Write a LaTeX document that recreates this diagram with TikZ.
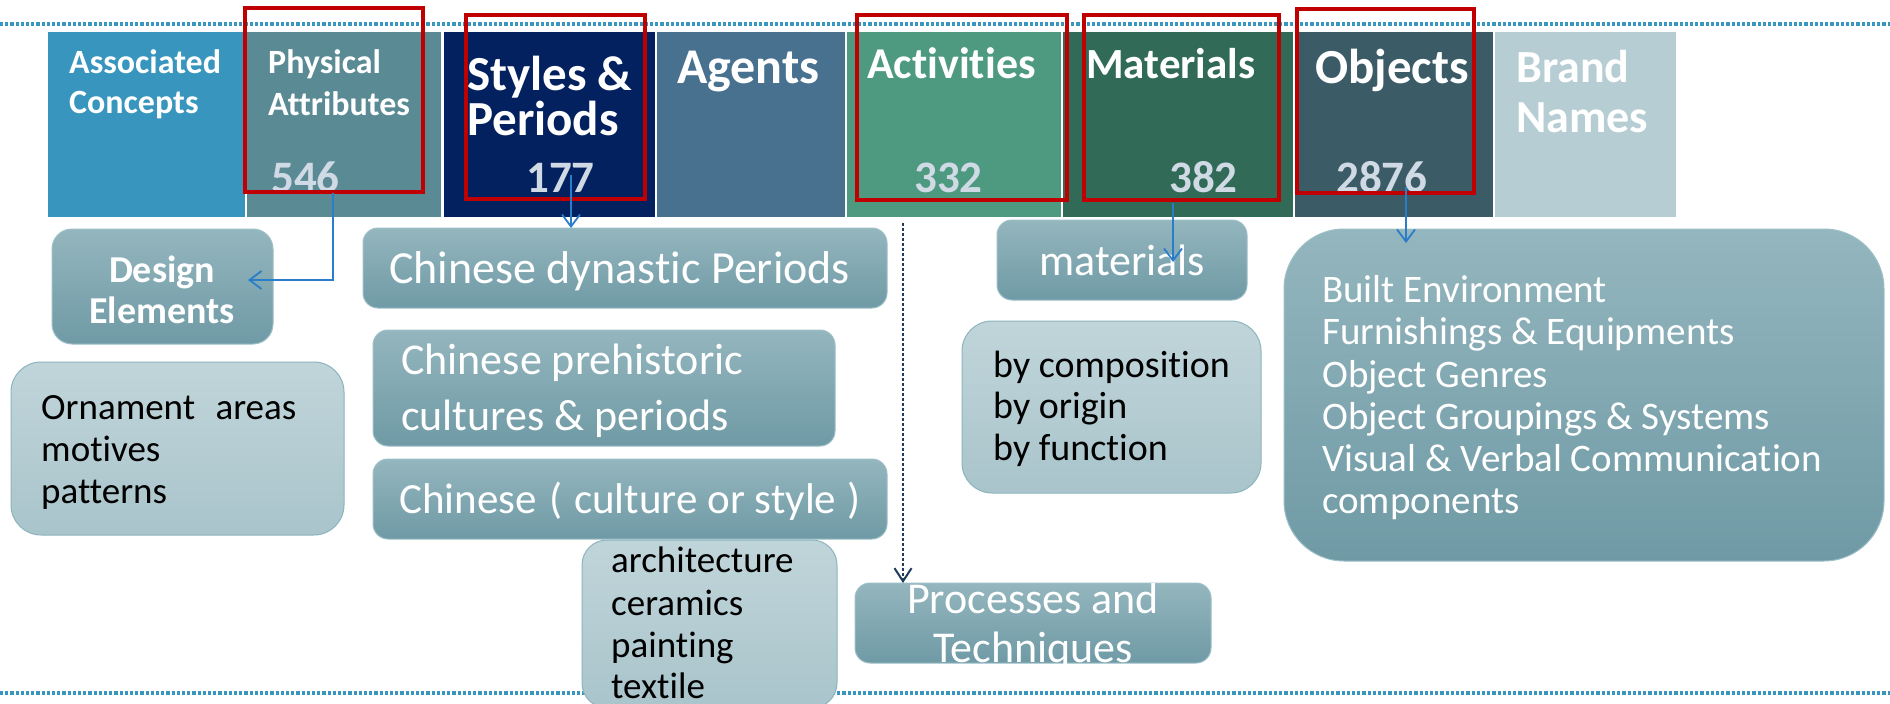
\documentclass[tikz,border=0pt]{standalone}
\usepackage{fontspec}
\setmainfont{Carlito}[Ligatures={NoCommon}]
\usetikzlibrary{arrows.meta}
\definecolor{acblue}{HTML}{3795BE}
\definecolor{physcol}{HTML}{5A8A94}
\definecolor{stylecol}{HTML}{03215F}
\definecolor{agentcol}{HTML}{48708F}
\definecolor{activcol}{HTML}{4D9A80}
\definecolor{matercol}{HTML}{316B58}
\definecolor{objcol}{HTML}{3B5B66}
\definecolor{brandcol}{HTML}{B6CDD3}
\definecolor{numcol}{HTML}{CFDAE5}
\definecolor{boxtop}{HTML}{94B6BE}
\definecolor{boxbot}{HTML}{6F9AA5}
\definecolor{boxedge}{HTML}{9DBFC7}
\definecolor{lighttop}{HTML}{C0D5DA}
\definecolor{lightbot}{HTML}{A9C4CB}
\definecolor{lightedge}{HTML}{8DB4BE}
\definecolor{arrowblue}{HTML}{2A7DC9}
\definecolor{dotblue}{HTML}{3A96C0}
\definecolor{navyarrow}{HTML}{1F3B5E}
\definecolor{redframe}{HTML}{C00000}
\begin{document}
\begin{tikzpicture}[x=1pt,y=-1pt,
  topbox/.style={anchor=north west,inner sep=0pt,outer sep=0pt,draw=none},
  toplabel/.style={anchor=base west,inner sep=0pt,text=white,font=\bfseries\fontsize{#1}{#1}\selectfont},
  numlabel/.style={anchor=base west,inner sep=0pt,text=numcol,font=\bfseries\fontsize{45}{45}\selectfont},
  darkbox/.style={anchor=north west,inner sep=0pt,outer sep=0pt,rounded corners=#1,
    top color=boxtop,bottom color=boxbot,draw=boxedge,line width=1pt},
  lightbox/.style={anchor=north west,inner sep=0pt,outer sep=0pt,rounded corners=#1,
    top color=lighttop,bottom color=lightbot,draw=lightedge,line width=1pt},
  whitetxt/.style={anchor=base west,inner sep=0pt,text=white,font=\fontsize{#1}{#1}\selectfont},
  blacktxt/.style={anchor=base west,inner sep=0pt,text=black,font=\fontsize{#1}{#1}\selectfont},
  redbox/.style={draw=redframe,line width=3.5pt},
  dotline/.style={draw=dotblue,line width=3.6pt,dash pattern=on 3.2pt off 2pt},
  arr/.style={draw=arrowblue,line width=1.8pt,-{Straight Barb[length=12pt,width=18pt,line width=1.8pt]}},
  dotarr/.style={draw=navyarrow,line width=2.2pt,dash pattern=on 2.5pt off 2.5pt,
    -{Straight Barb[length=13pt,width=17pt,line width=2pt]}}
]
\clip (0,0) rectangle (1890,704);
\fill[white] (0,0) rectangle (1890,704);

% dotted rules
\coordinate (tl) at (0,24); \coordinate (tr) at (1890,24);
\coordinate (bl) at (0,693); \coordinate (br) at (1890,693);
\draw[dotline] (tl) -- (tr);
\draw[dotline] (bl) -- (br);

% top category boxes
\node[topbox,fill=acblue,minimum width=197pt,minimum height=185pt] (ac) at (48,32) {};
\node[topbox,fill=physcol,minimum width=194pt,minimum height=185pt] (ph) at (247,32) {};
\node[topbox,fill=stylecol,minimum width=211pt,minimum height=185pt] (st) at (444,32) {};
\node[topbox,fill=agentcol,minimum width=188pt,minimum height=185pt] (ag) at (657,32) {};
\node[topbox,fill=activcol,minimum width=214pt,minimum height=185pt] (act) at (847,32) {};
\node[topbox,fill=matercol,minimum width=230pt,minimum height=185pt] (mat) at (1063,32) {};
\node[topbox,fill=objcol,minimum width=198pt,minimum height=185pt] (obj) at (1295,32) {};
\node[topbox,fill=brandcol,minimum width=181pt,minimum height=185pt] (brn) at (1495,32) {};

\node[toplabel=34] (ac1) at (69,73) {Associated};
\node[toplabel=34] (ac2) at (69,113) {Concepts};
\node[toplabel=34] (ph1) at (268,73) {Physical};
\node[toplabel=34] (ph2) at (268,115) {Attributes};
\node[toplabel=49] (st1) at (467,90) {Styles \&};
\node[toplabel=49] (st2) at (467,135) {Periods};
\node[toplabel=50] (ag1) at (677,83) {Agents};
\node[toplabel=44] (act1) at (867,78) {Activities};
\node[toplabel=43] (mat1) at (1086,78) {Materials};
\node[toplabel=49] (obj1) at (1315,83) {Objects};
\node[toplabel=46] (br1) at (1516,82) {Brand};
\node[toplabel=46] (br2) at (1516,132) {Names};

\node[numlabel] (n546) at (271,192) {546};
\node[numlabel] (n177) at (526,192) {177};
\node[numlabel] (n332) at (914,192) {332};
\node[numlabel] (n382) at (1169,192) {382};
\node[numlabel] (n2876) at (1336,192) {2876};

% red frames
\draw[redbox] (245,8) rectangle (423,192);
\draw[redbox] (466,15) rectangle (645,199);
\draw[redbox] (857,15) rectangle (1067,200);
\draw[redbox] (1084,15) rectangle (1279,200);
\draw[redbox] (1297,9) rectangle (1474,193);

% lower boxes
\node[darkbox=20pt,minimum width=221pt,minimum height=115pt] (de) at (52,229) {};
\node[lightbox=30pt,minimum width=333pt,minimum height=173pt] (orn) at (11,362) {};
\node[darkbox=15pt,minimum width=524pt,minimum height=80pt] (cdp) at (363,228) {};
\node[darkbox=15pt,minimum width=462pt,minimum height=116pt] (cpc) at (373,330) {};
\node[darkbox=15pt,minimum width=514pt,minimum height=80pt] (ccs) at (373,459) {};
\node[lightbox=25pt,minimum width=255pt,minimum height=168pt] (arch) at (582,540) {};
\node[darkbox=15pt,minimum width=250pt,minimum height=80pt] (mats) at (997,220) {};
\node[lightbox=30pt,minimum width=299pt,minimum height=172pt] (byc) at (962,321) {};
\node[darkbox=60pt,minimum width=600pt,minimum height=332pt] (objb) at (1284,229) {};
\node[darkbox=15pt,minimum width=356pt,minimum height=80pt] (proc) at (855,583) {};

% texts in lower boxes
\node[anchor=base,inner sep=0pt,text=white,font=\bfseries\fontsize{38}{38}\selectfont] (de1) at (162,282) {Design};
\node[anchor=base,inner sep=0pt,text=white,font=\bfseries\fontsize{38}{38}\selectfont] (de2) at (162,323) {Elements};

\node[blacktxt=37] (orn1) at (41,419) {Ornament\hspace{12pt} areas};
\node[blacktxt=37] (orn2) at (41,461) {motives};
\node[blacktxt=37] (orn3) at (41,503) {patterns};

\node[whitetxt=46] (cdp1) at (389,283) {Chinese dynastic Periods};
\node[whitetxt=44] (cpc1) at (401,374) {Chinese prehistoric};
\node[whitetxt=44] (cpc2) at (401,430) {cultures \& periods};
\node[whitetxt=43] (ccs1) at (399,513) {Chinese\hspace{3pt} (\hspace{2pt} culture or style\hspace{2pt} )};

\node[blacktxt=37] (ar1) at (611,572) {architecture};
\node[blacktxt=37] (ar2) at (611,615) {ceramics};
\node[blacktxt=37] (ar3) at (611,657) {painting};
\node[blacktxt=37] (ar4) at (611,698) {textile};

\node[whitetxt=44] (mats1) at (1039,275) {materials};

\node[blacktxt=38] (by1) at (993,377) {by composition};
\node[blacktxt=38] (by2) at (993,418) {by origin};
\node[blacktxt=38] (by3) at (993,460) {by function};

\node[whitetxt=39] (ob1) at (1322,302) {Built Environment};
\node[whitetxt=39] (ob2) at (1322,344) {Furnishings \& Equipments};
\node[whitetxt=39] (ob3) at (1322,387) {Object Genres};
\node[whitetxt=39] (ob4) at (1322,429) {Object Groupings \& Systems};
\node[whitetxt=39] (ob5) at (1322,471) {Visual \& Verbal Communication};
\node[whitetxt=39] (ob6) at (1322,513) {components};

\begin{scope}
  \clip[rounded corners=15pt] (855,583) rectangle (1211,663);
  \node[anchor=base,inner sep=0pt,text=white,font=\fontsize{44}{44}\selectfont] (pr1) at (1033,613) {Processes and};
  \node[anchor=base,inner sep=0pt,text=white,font=\fontsize{44}{44}\selectfont] (pr2) at (1033,662) {Techniques};
\end{scope}

% connectors
\coordinate (s546) at (333,193);
\coordinate (t546) at (248,280);
\draw[arr] (s546) |- (t546);
\coordinate (s177) at (571,175);
\coordinate (t177) at (571,228);
\draw[arr] (s177) -- (t177);
\coordinate (s382) at (1173,203);
\coordinate (t382) at (1173,262);
\draw[arr] (s382) -- (t382);
\coordinate (s2876) at (1406,187);
\coordinate (t2876) at (1406,243);
\draw[arr] (s2876) -- (t2876);
\coordinate (sact) at (903,223);
\draw[dotarr] (sact) -- (proc.north -| sact);
\end{tikzpicture}
\end{document}
